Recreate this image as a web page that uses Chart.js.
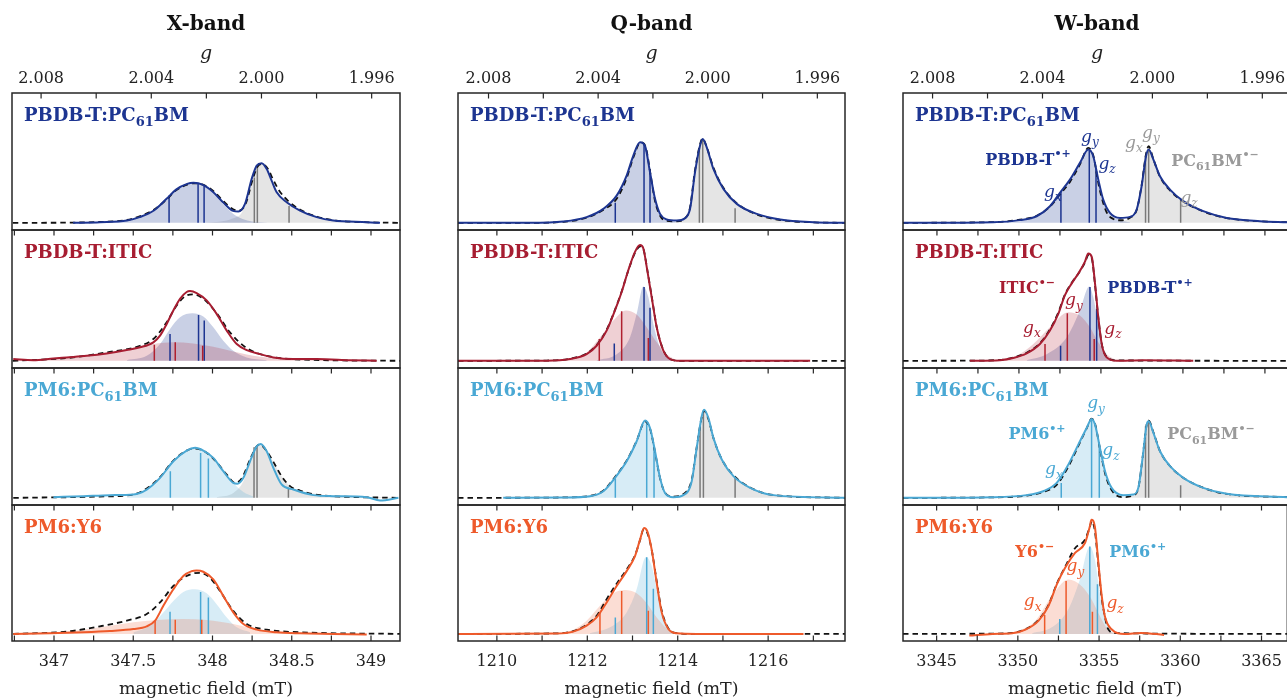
<!DOCTYPE html>
<html><head><meta charset="utf-8">
<script src="https://cdn.jsdelivr.net/npm/chart.js@4.4.1/dist/chart.umd.min.js"></script>
<style>
html,body{margin:0;padding:0;background:#fff;overflow:hidden;width:1287px;height:700px;position:relative;}
canvas{position:absolute;}
</style></head><body>
<script>
// ---------- axis ticks ----------
const X_ticks = [347, 347.5, 348, 348.5, 349];
const X_minor = [346.75, 347, 347.25, 347.5, 347.75, 348, 348.25, 348.5, 348.75, 349];
const Q_ticks = [1210, 1212, 1214, 1216];
const Q_minor = [1210, 1211, 1212, 1213, 1214, 1215, 1216, 1217];
const W_ticks = [3345, 3350, 3355, 3360, 3365];
const W_minor = [3345, 3347.5, 3350, 3352.5, 3355, 3357.5, 3360, 3362.5, 3365];
const g_ticks = [2.008, 2.004, 2.000, 1.996];
const g_minor = [2.008, 2.006, 2.004, 2.002, 2.000, 1.998, 1.996];
const bands = ['X-band', 'Q-band', 'W-band'];
const fieldRange = [[346.735, 349.183], [1209.14, 1217.70], [3342.93, 3366.59]];
const hvOverMuB = [696.61, 2429.30, 6716.2]; // B*g constant (mT)

// ---------- X-band ----------
const X1_exp = [[347.12,0],[347.29,0.005],[347.46,0.018],[347.54,0.044],[347.63,0.095],[347.71,0.185],[347.77,0.256],[347.84,0.300],[347.88,0.308],[347.94,0.292],[348.005,0.236],[348.07,0.154],[348.13,0.092],[348.163,0.087],[348.205,0.146],[348.247,0.338],[348.279,0.441],[348.31,0.459],[348.342,0.415],[348.373,0.326],[348.405,0.236],[348.468,0.159],[348.552,0.095],[348.657,0.044],[348.762,0.018],[348.973,0.005],[349.057,0]];
const X1_sim = [[346.74,0],[347.10,0.002],[347.29,0.007],[347.46,0.022],[347.54,0.05],[347.63,0.10],[347.71,0.18],[347.77,0.25],[347.84,0.295],[347.89,0.305],[347.95,0.29],[348.01,0.24],[348.07,0.165],[348.13,0.105],[348.17,0.095],[348.21,0.15],[348.25,0.32],[348.285,0.435],[348.315,0.452],[348.35,0.415],[348.38,0.34],[348.42,0.25],[348.48,0.165],[348.56,0.097],[348.66,0.047],[348.78,0.018],[349.0,0.004],[349.18,0]];
const X1_pbdb = [[347.30,0],[347.46,0.015],[347.54,0.04],[347.63,0.09],[347.71,0.18],[347.77,0.25],[347.84,0.295],[347.88,0.305],[347.94,0.29],[348.00,0.23],[348.07,0.14],[348.13,0.07],[348.19,0.03],[348.25,0.01],[348.35,0]];
const X1_pcbm = [[347.95,0],[348.05,0.01],[348.13,0.035],[348.19,0.09],[348.23,0.25],[348.27,0.41],[348.31,0.455],[348.34,0.41],[348.37,0.32],[348.41,0.23],[348.47,0.155],[348.55,0.09],[348.66,0.04],[348.76,0.015],[348.97,0.003],[349.06,0]];
const X1_pbdbSticks = [[347.726,0.21],[347.909,0.30],[347.947,0.29]];
const X1_pcbmSticks = [[348.264,0.35],[348.283,0.44],[348.483,0.13]];

const X2_exp = [[346.743,0.013],[346.869,0.005],[346.996,0.018],[347.08,0.026],[347.206,0.038],[347.332,0.056],[347.459,0.082],[347.543,0.103],[347.627,0.141],[347.669,0.192],[347.711,0.282],[347.753,0.385],[347.795,0.474],[347.837,0.526],[347.858,0.533],[347.90,0.518],[347.963,0.462],[348.026,0.359],[348.09,0.231],[348.153,0.128],[348.216,0.082],[348.30,0.051],[348.384,0.026],[348.51,0.013],[348.657,0.013],[348.868,0.005],[349.036,0]];
const X2_sim = [[346.74,0],[347.08,0.021],[347.332,0.064],[347.543,0.115],[347.627,0.167],[347.711,0.295],[347.774,0.423],[347.837,0.50],[347.879,0.508],[347.942,0.474],[348.026,0.364],[348.11,0.218],[348.216,0.097],[348.342,0.038],[348.552,0.01],[349.183,0]];
const X2_itic = [[346.743,0.005],[347.08,0.026],[347.332,0.056],[347.501,0.097],[347.627,0.128],[347.753,0.141],[347.879,0.133],[348.005,0.108],[348.131,0.072],[348.30,0.031],[348.552,0.01],[348.973,0.003]];
const X2_pbdb = [[347.459,0.005],[347.585,0.038],[347.669,0.128],[347.732,0.244],[347.795,0.333],[347.874,0.364],[347.942,0.338],[348.005,0.256],[348.068,0.154],[348.131,0.077],[348.216,0.026],[348.342,0.005]];
const X2_iticSticks = [[347.633,0.123],[347.765,0.141],[347.938,0.115]];
const X2_pbdbSticks = [[347.732,0.205],[347.912,0.351],[347.948,0.308]];

const X3_exp = [[346.996,0.005],[347.185,0.013],[347.353,0.021],[347.501,0.026],[347.585,0.064],[347.669,0.154],[347.753,0.282],[347.837,0.364],[347.89,0.385],[347.942,0.364],[348.005,0.308],[348.068,0.205],[348.131,0.115],[348.157,0.108],[348.195,0.154],[348.237,0.282],[348.279,0.397],[348.304,0.415],[348.342,0.359],[348.384,0.231],[348.436,0.103],[348.51,0.064],[348.636,0.021],[348.762,0.013],[348.973,0.005],[349.057,-0.02],[349.173,0]];
const X3_sim = [[346.743,0],[347.29,0.01],[347.501,0.026],[347.585,0.072],[347.669,0.159],[347.753,0.287],[347.837,0.364],[347.89,0.379],[347.942,0.364],[348.005,0.303],[348.09,0.179],[348.142,0.115],[348.184,0.149],[348.237,0.295],[348.279,0.397],[348.30,0.41],[348.342,0.359],[348.384,0.277],[348.436,0.167],[348.489,0.09],[348.552,0.056],[348.678,0.021],[349.183,0]];
const X3_pm6 = [[347.459,0.005],[347.585,0.056],[347.669,0.149],[347.753,0.277],[347.837,0.359],[347.89,0.379],[347.942,0.359],[348.005,0.303],[348.068,0.205],[348.131,0.115],[348.195,0.046],[348.258,0.01]];
const X3_pcbm = [[348.026,0.005],[348.131,0.038],[348.195,0.128],[348.237,0.277],[348.279,0.392],[348.304,0.41],[348.342,0.359],[348.384,0.277],[348.436,0.167],[348.489,0.09],[348.552,0.056],[348.678,0.026],[348.868,0.01],[349.173,0.003]];
const X3_pm6Sticks = [[347.734,0.205],[347.925,0.346],[347.974,0.303]];
const X3_pcbmSticks = [[348.262,0.39],[348.281,0.405],[348.479,0.077]];

const X4_exp = [[346.743,0],[346.974,0.005],[347.185,0.013],[347.353,0.023],[347.501,0.038],[347.585,0.059],[347.638,0.103],[347.69,0.218],[347.753,0.346],[347.816,0.449],[347.869,0.487],[347.90,0.492],[347.942,0.482],[348.005,0.423],[348.068,0.295],[348.131,0.167],[348.195,0.077],[348.279,0.033],[348.405,0.013],[348.552,0.005],[348.762,0],[348.973,-0.005]];
const X4_sim = [[346.743,0],[347.08,0.018],[347.29,0.059],[347.459,0.103],[347.585,0.154],[347.669,0.244],[347.753,0.372],[347.816,0.436],[347.879,0.469],[347.921,0.474],[347.984,0.436],[348.047,0.333],[348.131,0.179],[348.216,0.077],[348.342,0.033],[348.552,0.013],[349.183,0]];
const X4_pm6 = [[347.501,0.013],[347.606,0.064],[347.69,0.167],[347.753,0.256],[347.816,0.326],[347.89,0.346],[347.963,0.315],[348.026,0.231],[348.09,0.128],[348.153,0.051],[348.237,0.013]];
const X4_y6 = [[346.743,0],[347.08,0.018],[347.29,0.051],[347.501,0.09],[347.648,0.108],[347.816,0.115],[347.963,0.108],[348.131,0.077],[348.30,0.033],[348.552,0.008],[348.973,0]];
const X4_y6Sticks = [[347.638,0.108],[347.765,0.11],[347.932,0.11]];
const X4_pm6Sticks = [[347.732,0.172],[347.925,0.326],[347.974,0.282]];

// ---------- Q-band ----------
const Q1_exp = [[1209.143,0],[1210.731,0],[1211.468,0.01],[1211.985,0.044],[1212.354,0.108],[1212.649,0.21],[1212.87,0.364],[1213.018,0.518],[1213.166,0.621],[1213.277,0.592],[1213.387,0.39],[1213.498,0.185],[1213.609,0.069],[1213.756,0.026],[1213.978,0.018],[1214.162,0.036],[1214.273,0.108],[1214.383,0.39],[1214.494,0.595],[1214.553,0.646],[1214.642,0.582],[1214.789,0.415],[1215.011,0.262],[1215.306,0.146],[1215.749,0.069],[1216.265,0.026],[1217.003,0.005],[1217.704,0]];
const Q1_sim = [[1209.14,0],[1210.73,0],[1211.47,0.008],[1211.99,0.040],[1212.35,0.100],[1212.65,0.185],[1212.87,0.345],[1213.02,0.505],[1213.18,0.620],[1213.29,0.585],[1213.40,0.37],[1213.50,0.165],[1213.61,0.055],[1213.76,0.015],[1213.98,0.012],[1214.16,0.035],[1214.27,0.115],[1214.38,0.40],[1214.49,0.600],[1214.55,0.650],[1214.64,0.585],[1214.79,0.425],[1215.01,0.270],[1215.31,0.150],[1215.75,0.065],[1216.27,0.022],[1217.00,0.004],[1217.70,0]];
const Q1_pbdb = [[1211.2,0],[1211.616,0.01],[1211.985,0.044],[1212.354,0.108],[1212.649,0.205],[1212.87,0.359],[1213.018,0.513],[1213.166,0.615],[1213.277,0.59],[1213.387,0.39],[1213.498,0.172],[1213.609,0.062],[1213.756,0.018],[1213.978,0.003]];
const Q1_pcbm = [[1213.70,0],[1213.978,0.005],[1214.162,0.031],[1214.273,0.103],[1214.383,0.385],[1214.494,0.59],[1214.553,0.641],[1214.642,0.579],[1214.789,0.415],[1215.011,0.262],[1215.306,0.146],[1215.749,0.069],[1216.265,0.026],[1217.003,0.005],[1217.704,0]];
const Q1_pbdbSticks = [[1212.619,0.154],[1213.255,0.615],[1213.387,0.415]];
const Q1_pcbmSticks = [[1214.479,0.582],[1214.553,0.641],[1215.269,0.113]];

const Q2_exp = [[1209.143,0],[1211.10,0],[1211.616,0.013],[1211.985,0.051],[1212.206,0.115],[1212.428,0.231],[1212.612,0.385],[1212.76,0.526],[1212.907,0.692],[1213.055,0.833],[1213.166,0.885],[1213.24,0.859],[1213.314,0.718],[1213.424,0.487],[1213.535,0.256],[1213.683,0.077],[1213.83,0.013],[1214.052,0],[1216.929,0]];
const Q2_sim = [[1209.14,0],[1211.10,0.002],[1211.616,0.016],[1211.985,0.056],[1212.206,0.12],[1212.428,0.238],[1212.612,0.39],[1212.76,0.53],[1212.907,0.69],[1213.055,0.825],[1213.17,0.875],[1213.245,0.85],[1213.32,0.71],[1213.43,0.48],[1213.54,0.25],[1213.69,0.075],[1213.83,0.014],[1214.05,0],[1217.70,0]];
const Q2_itic = [[1211.2,0],[1211.616,0.013],[1211.985,0.064],[1212.28,0.179],[1212.575,0.308],[1212.856,0.385],[1213.092,0.354],[1213.314,0.256],[1213.535,0.141],[1213.756,0.051],[1213.978,0.005]];
const Q2_pbdb = [[1212.206,0.005],[1212.649,0.051],[1212.944,0.179],[1213.092,0.359],[1213.24,0.569],[1213.35,0.487],[1213.461,0.282],[1213.609,0.103],[1213.83,0.013],[1214.052,0]];
const Q2_iticSticks = [[1212.265,0.167],[1212.76,0.379],[1213.35,0.174]];
const Q2_pbdbSticks = [[1212.597,0.133],[1213.255,0.564],[1213.387,0.405]];

const Q3_exp = [[1210.14,0],[1211.468,0.003],[1212.059,0.013],[1212.354,0.051],[1212.612,0.154],[1212.87,0.282],[1213.092,0.436],[1213.277,0.595],[1213.387,0.538],[1213.498,0.359],[1213.609,0.154],[1213.719,0.038],[1213.904,0.005],[1214.126,0.021],[1214.31,0.128],[1214.42,0.385],[1214.531,0.628],[1214.582,0.679],[1214.679,0.615],[1214.789,0.462],[1214.974,0.295],[1215.232,0.167],[1215.602,0.077],[1216.118,0.021],[1217.704,0]];
const Q3_sim = [[1209.14,0],[1211.468,0.003],[1212.059,0.015],[1212.354,0.055],[1212.612,0.16],[1212.87,0.287],[1213.092,0.44],[1213.28,0.59],[1213.39,0.53],[1213.50,0.35],[1213.61,0.15],[1213.72,0.04],[1213.90,0.01],[1214.13,0.03],[1214.31,0.14],[1214.42,0.39],[1214.53,0.62],[1214.585,0.67],[1214.68,0.605],[1214.79,0.46],[1214.97,0.30],[1215.23,0.175],[1215.60,0.08],[1216.12,0.022],[1217.70,0]];
const Q3_pm6 = [[1211.6,0],[1212.059,0.008],[1212.354,0.051],[1212.612,0.149],[1212.87,0.277],[1213.092,0.431],[1213.277,0.59],[1213.387,0.533],[1213.498,0.354],[1213.609,0.149],[1213.719,0.036],[1213.904,0.003]];
const Q3_pcbm = [[1213.904,0.003],[1214.126,0.018],[1214.31,0.123],[1214.42,0.379],[1214.531,0.623],[1214.582,0.674],[1214.679,0.61],[1214.789,0.458],[1214.974,0.29],[1215.232,0.162],[1215.602,0.074],[1216.118,0.021],[1217.704,0]];
const Q3_pm6Sticks = [[1212.62,0.149],[1213.314,0.585],[1213.476,0.397]];
const Q3_pcbmSticks = [[1214.494,0.551],[1214.568,0.672],[1215.269,0.154]];

const Q4_exp = [[1209.143,0],[1211.321,0.003],[1211.69,0.018],[1211.985,0.064],[1212.206,0.128],[1212.428,0.244],[1212.649,0.372],[1212.87,0.487],[1213.055,0.603],[1213.166,0.731],[1213.255,0.821],[1213.328,0.795],[1213.424,0.654],[1213.535,0.397],[1213.646,0.167],[1213.793,0.038],[1213.978,0.005],[1214.42,0],[1216.782,0]];
const Q4_sim = [[1209.14,0],[1211.32,0.004],[1211.69,0.022],[1211.985,0.072],[1212.206,0.14],[1212.428,0.27],[1212.649,0.39],[1212.87,0.50],[1213.055,0.61],[1213.17,0.73],[1213.245,0.81],[1213.32,0.79],[1213.42,0.66],[1213.53,0.42],[1213.64,0.19],[1213.79,0.045],[1213.98,0.006],[1214.42,0],[1217.70,0]];
const Q4_y6 = [[1211.321,0.005],[1211.69,0.033],[1211.985,0.103],[1212.28,0.218],[1212.575,0.315],[1212.833,0.341],[1213.092,0.315],[1213.314,0.238],[1213.535,0.128],[1213.756,0.044],[1214.052,0.005]];
const Q4_pm6 = [[1212.059,0.005],[1212.502,0.051],[1212.87,0.167],[1213.092,0.346],[1213.299,0.597],[1213.424,0.526],[1213.535,0.346],[1213.683,0.141],[1213.867,0.026],[1214.052,0]];
const Q4_y6Sticks = [[1212.28,0.162],[1212.76,0.333],[1213.35,0.179]];
const Q4_pm6Sticks = [[1212.62,0.128],[1213.314,0.595],[1213.461,0.351]];

// ---------- W-band ----------
const W1_exp = [[3342.95,0],[3348.43,0.005],[3350.06,0.021],[3351.08,0.051],[3351.89,0.128],[3352.50,0.231],[3353.11,0.333],[3353.72,0.462],[3354.23,0.564],[3354.53,0.513],[3354.84,0.333],[3355.14,0.179],[3355.55,0.077],[3356.16,0.038],[3356.77,0.046],[3357.18,0.103],[3357.48,0.282],[3357.75,0.513],[3357.91,0.564],[3358.20,0.487],[3358.60,0.359],[3359.21,0.256],[3360.02,0.167],[3361.24,0.09],[3362.67,0.038],[3364.70,0.013],[3366.35,0.005]];
const W1_sim = [[3342.93,0],[3348.43,0.006],[3350.06,0.024],[3351.08,0.055],[3351.89,0.125],[3352.50,0.22],[3353.11,0.315],[3353.72,0.45],[3354.23,0.577],[3354.53,0.52],[3354.90,0.27],[3355.35,0.08],[3355.75,0.03],[3356.16,0.02],[3356.77,0.04],[3357.18,0.10],[3357.48,0.29],[3357.75,0.53],[3357.91,0.59],[3358.20,0.49],[3358.60,0.355],[3359.21,0.25],[3360.02,0.165],[3361.24,0.088],[3362.67,0.037],[3364.70,0.012],[3366.60,0.004]];
const W1_pbdb = [[3348.8,0],[3350.06,0.013],[3351.08,0.046],[3351.89,0.123],[3352.50,0.226],[3353.11,0.328],[3353.72,0.456],[3354.23,0.559],[3354.53,0.508],[3354.84,0.328],[3355.14,0.174],[3355.55,0.072],[3356.16,0.021],[3356.77,0.005]];
const W1_pcbm = [[3356.16,0.013],[3356.77,0.038],[3357.18,0.097],[3357.48,0.277],[3357.75,0.508],[3357.91,0.559],[3358.20,0.482],[3358.60,0.354],[3359.21,0.251],[3360.02,0.162],[3361.24,0.087],[3362.67,0.036],[3364.70,0.01],[3366.35,0.005]];
const W1_pbdbSticks = [[3352.56,0.244],[3354.29,0.559],[3354.70,0.423]];
const W1_pcbmSticks = [[3357.72,0.513],[3357.91,0.559],[3359.86,0.185]];

const W2_exp = [[3347.01,0],[3348.84,0.005],[3349.65,0.021],[3350.47,0.056],[3351.28,0.128],[3351.89,0.231],[3352.40,0.359],[3352.80,0.50],[3353.21,0.59],[3353.62,0.667],[3354.02,0.756],[3354.23,0.821],[3354.44,0.795],[3354.64,0.59],[3354.84,0.333],[3355.05,0.128],[3355.35,0.026],[3355.96,0],[3357.58,0.005],[3360.63,0]];
const W2_sim = [[3342.93,0],[3347.01,0.001],[3348.84,0.007],[3349.65,0.025],[3350.47,0.062],[3351.28,0.135],[3351.89,0.24],[3352.40,0.37],[3352.80,0.505],[3353.21,0.595],[3353.62,0.665],[3354.02,0.75],[3354.25,0.81],[3354.45,0.78],[3354.64,0.58],[3354.84,0.33],[3355.05,0.13],[3355.35,0.03],[3355.96,0.003],[3366.6,0]];
const W2_itic = [[3348.84,0.005],[3349.86,0.038],[3350.88,0.128],[3351.89,0.256],[3353.01,0.372],[3353.72,0.346],[3354.33,0.256],[3354.84,0.141],[3355.35,0.051],[3355.96,0.005]];
const W2_pbdb = [[3350.47,0.005],[3351.69,0.051],[3352.91,0.179],[3353.72,0.385],[3354.29,0.569],[3354.53,0.487],[3354.84,0.282],[3355.14,0.103],[3355.55,0.013],[3355.96,0]];
const W2_iticSticks = [[3351.59,0.128],[3352.95,0.364],[3354.59,0.167]];
const W2_pbdbSticks = [[3352.54,0.115],[3354.33,0.564],[3354.74,0.397]];

const W3_exp = [[3342.95,0],[3348.43,0.005],[3350.47,0.021],[3351.48,0.051],[3352.30,0.115],[3353.01,0.256],[3353.62,0.41],[3354.13,0.538],[3354.43,0.608],[3354.64,0.564],[3354.94,0.385],[3355.25,0.205],[3355.65,0.077],[3356.36,0.021],[3356.97,0.026],[3357.28,0.077],[3357.54,0.308],[3357.79,0.564],[3357.91,0.59],[3358.20,0.50],[3358.60,0.359],[3359.21,0.244],[3360.02,0.154],[3361.24,0.077],[3362.67,0.031],[3366.35,0.005]];
const W3_sim = [[3342.93,0],[3348.43,0.004],[3350.47,0.018],[3351.48,0.045],[3352.30,0.10],[3353.01,0.24],[3353.62,0.40],[3354.13,0.535],[3354.43,0.61],[3354.64,0.57],[3354.94,0.38],[3355.25,0.19],[3355.65,0.06],[3356.36,0.006],[3356.97,0.02],[3357.28,0.075],[3357.54,0.31],[3357.79,0.565],[3357.91,0.595],[3358.20,0.505],[3358.60,0.36],[3359.21,0.245],[3360.02,0.155],[3361.24,0.078],[3362.67,0.03],[3366.6,0.004]];
const W3_pm6 = [[3348.9,0],[3350.47,0.015],[3351.48,0.046],[3352.30,0.11],[3353.01,0.251],[3353.62,0.405],[3354.13,0.533],[3354.43,0.603],[3354.64,0.559],[3354.94,0.379],[3355.25,0.2],[3355.65,0.072],[3356.36,0.01]];
const W3_pcbm = [[3356.36,0.005],[3356.97,0.021],[3357.28,0.072],[3357.54,0.303],[3357.79,0.559],[3357.91,0.585],[3358.20,0.495],[3358.60,0.354],[3359.21,0.238],[3360.02,0.149],[3361.24,0.072],[3362.67,0.028],[3366.35,0.005]];
const W3_pm6Sticks = [[3352.58,0.115],[3354.43,0.603],[3354.90,0.41]];
const W3_pcbmSticks = [[3357.72,0.551],[3357.91,0.585],[3359.86,0.097]];

const W4_exp = [[3347.01,-0.013],[3348.43,0],[3349.65,0.005],[3350.47,0.033],[3351.28,0.103],[3351.89,0.218],[3352.40,0.385],[3352.91,0.513],[3353.52,0.628],[3354.13,0.705],[3354.43,0.833],[3354.53,0.885],[3354.74,0.833],[3354.94,0.577],[3355.14,0.321],[3355.35,0.141],[3355.75,0.038],[3356.57,0],[3357.58,0.008],[3359.00,-0.008]];
const W4_sim = [[3342.93,0],[3348.43,0.002],[3349.65,0.008],[3350.47,0.036],[3351.28,0.11],[3351.89,0.225],[3352.40,0.39],[3352.91,0.52],[3353.52,0.665],[3354.13,0.73],[3354.43,0.83],[3354.55,0.875],[3354.74,0.80],[3354.94,0.56],[3355.14,0.30],[3355.35,0.14],[3355.55,0.04],[3356.0,0.006],[3366.6,0]];
const W4_y6 = [[3349.04,0],[3350.06,0.026],[3351.08,0.103],[3352.09,0.295],[3353.11,0.423],[3353.92,0.372],[3354.53,0.269],[3355.04,0.141],[3355.55,0.033],[3356.16,0]];
const W4_pm6 = [[3350.88,0.005],[3352.09,0.051],[3353.11,0.192],[3353.82,0.423],[3354.43,0.679],[3354.74,0.577],[3355.04,0.321],[3355.35,0.128],[3355.75,0.018],[3356.16,0]];
const W4_y6Sticks = [[3351.65,0.146],[3352.97,0.41],[3354.59,0.172]];
const W4_pm6Sticks = [[3352.58,0.115],[3354.43,0.679],[3354.90,0.385]];

// ---------- styles ----------
const FONT = "'DejaVu Serif', serif";
const C = {
  pbdb: {line:'#1d3591', fill:'rgba(38,66,150,0.25)', stick:'#1d3591', text:'#1d3591'},
  pcbm: {line:'#777', fill:'rgba(0,0,0,0.10)', stick:'#7a7a7a', text:'#9a9a9a'},
  itic: {line:'#a71d31', fill:'rgba(180,40,60,0.22)', stick:'#b0202f', text:'#a71d31'},
  pm6:  {line:'#4aa8d4', fill:'rgba(74,170,214,0.22)', stick:'#4aa8d4', text:'#4aa8d4'},
  y6:   {line:'#ee5a2b', fill:'rgba(238,100,60,0.22)', stick:'#ee5a2b', text:'#ee5a2b'}
};
const gl = (s) => [['g','n'],[s,'sub']];
const sup = (name, sign) => [[name,'n'],['\u2022' + sign,'sup']];

const rowLabels = [
  {parts:[['PBDB-T:PC','n'],['61','sub'],['BM','n']], color:C.pbdb.text},
  {parts:[['PBDB-T:ITIC','n']], color:C.itic.text},
  {parts:[['PM6:PC','n'],['61','sub'],['BM','n']], color:C.pm6.text},
  {parts:[['PM6:Y6','n']], color:C.y6.text}
];

const panels = [
  // X-band
  {col:0,row:0, exp:X1_exp, sim:X1_sim, expC:C.pbdb.line, comps:[[X1_pbdb,C.pbdb],[X1_pcbm,C.pcbm]], sticks:[[X1_pbdbSticks,C.pbdb],[X1_pcbmSticks,C.pcbm]], notes:[]},
  {col:0,row:1, exp:X2_exp, sim:X2_sim, expC:C.itic.line, comps:[[X2_itic,C.itic],[X2_pbdb,C.pbdb]], sticks:[[X2_iticSticks,C.itic],[X2_pbdbSticks,C.pbdb]], notes:[]},
  {col:0,row:2, exp:X3_exp, sim:X3_sim, expC:C.pm6.line, comps:[[X3_pm6,C.pm6],[X3_pcbm,C.pcbm]], sticks:[[X3_pm6Sticks,C.pm6],[X3_pcbmSticks,C.pcbm]], notes:[]},
  {col:0,row:3, exp:X4_exp, sim:X4_sim, expC:C.y6.line, comps:[[X4_y6,C.y6],[X4_pm6,C.pm6]], sticks:[[X4_y6Sticks,C.y6],[X4_pm6Sticks,C.pm6]], notes:[]},
  // Q-band
  {col:1,row:0, exp:Q1_exp, sim:Q1_sim, expC:C.pbdb.line, comps:[[Q1_pbdb,C.pbdb],[Q1_pcbm,C.pcbm]], sticks:[[Q1_pbdbSticks,C.pbdb],[Q1_pcbmSticks,C.pcbm]], notes:[]},
  {col:1,row:1, exp:Q2_exp, sim:Q2_sim, expC:C.itic.line, comps:[[Q2_itic,C.itic],[Q2_pbdb,C.pbdb]], sticks:[[Q2_iticSticks,C.itic],[Q2_pbdbSticks,C.pbdb]], notes:[]},
  {col:1,row:2, exp:Q3_exp, sim:Q3_sim, expC:C.pm6.line, comps:[[Q3_pm6,C.pm6],[Q3_pcbm,C.pcbm]], sticks:[[Q3_pm6Sticks,C.pm6],[Q3_pcbmSticks,C.pcbm]], notes:[]},
  {col:1,row:3, exp:Q4_exp, sim:Q4_sim, expC:C.y6.line, comps:[[Q4_y6,C.y6],[Q4_pm6,C.pm6]], sticks:[[Q4_y6Sticks,C.y6],[Q4_pm6Sticks,C.pm6]], notes:[]},
  // W-band
  {col:2,row:0, exp:W1_exp, sim:W1_sim, expC:C.pbdb.line, comps:[[W1_pbdb,C.pbdb],[W1_pcbm,C.pcbm]], sticks:[[W1_pbdbSticks,C.pbdb],[W1_pcbmSticks,C.pcbm]],
    notes:[
      {x:3350.55,y:0.495,parts:sup('PBDB-T','+'),color:C.pbdb.text,kind:'sp'},
      {x:3354.33,y:0.665,parts:gl('y'),color:C.pbdb.text,kind:'g'},
      {x:3355.37,y:0.456,parts:gl('z'),color:C.pbdb.text,kind:'g'},
      {x:3352.07,y:0.241,parts:gl('x'),color:C.pbdb.text,kind:'g'},
      {x:3357.01,y:0.617,parts:gl('x'),color:C.pcbm.text,kind:'g'},
      {x:3358.05,y:0.695,parts:gl('y'),color:C.pcbm.text,kind:'g'},
      {x:3361.95,y:0.487,parts:[['PC','n'],['61','sub'],['BM','n'],['\u2022\u2212','sup']],color:C.pcbm.text,kind:'sp'},
      {x:3360.37,y:0.195,parts:gl('z'),color:C.pcbm.text,kind:'g'}
    ]},
  {col:2,row:1, exp:W2_exp, sim:W2_sim, expC:C.itic.line, comps:[[W2_itic,C.itic],[W2_pbdb,C.pbdb]], sticks:[[W2_iticSticks,C.itic],[W2_pbdbSticks,C.pbdb]],
    notes:[
      {x:3350.49,y:0.562,parts:sup('ITIC','\u2212'),color:C.itic.text,kind:'sp'},
      {x:3357.99,y:0.562,parts:sup('PBDB-T','+'),color:C.pbdb.text,kind:'sp'},
      {x:3353.35,y:0.462,parts:gl('y'),color:C.itic.text,kind:'g'},
      {x:3350.79,y:0.254,parts:gl('x'),color:C.itic.text,kind:'g'},
      {x:3355.73,y:0.246,parts:gl('z'),color:C.itic.text,kind:'g'}
    ]},
  {col:2,row:2, exp:W3_exp, sim:W3_sim, expC:C.pm6.line, comps:[[W3_pm6,C.pm6],[W3_pcbm,C.pcbm]], sticks:[[W3_pm6Sticks,C.pm6],[W3_pcbmSticks,C.pcbm]],
    notes:[
      {x:3351.10,y:0.498,parts:sup('PM6','+'),color:C.pm6.text,kind:'sp'},
      {x:3354.70,y:0.728,parts:gl('y'),color:C.pm6.text,kind:'g'},
      {x:3355.61,y:0.367,parts:gl('z'),color:C.pm6.text,kind:'g'},
      {x:3352.13,y:0.221,parts:gl('x'),color:C.pm6.text,kind:'g'},
      {x:3361.71,y:0.498,parts:[['PC','n'],['61','sub'],['BM','n'],['\u2022\u2212','sup']],color:C.pcbm.text,kind:'sp'}
    ]},
  {col:2,row:3, exp:W4_exp, sim:W4_sim, expC:C.y6.line, comps:[[W4_y6,C.y6],[W4_pm6,C.pm6]], sticks:[[W4_y6Sticks,C.y6],[W4_pm6Sticks,C.pm6]],
    notes:[
      {x:3351.04,y:0.641,parts:sup('Y6','\u2212'),color:C.y6.text,kind:'sp'},
      {x:3357.38,y:0.641,parts:sup('PM6','+'),color:C.pm6.text,kind:'sp'},
      {x:3353.54,y:0.525,parts:gl('y'),color:C.y6.text,kind:'g'},
      {x:3350.91,y:0.256,parts:gl('x'),color:C.y6.text,kind:'g'},
      {x:3355.98,y:0.241,parts:gl('z'),color:C.y6.text,kind:'g'}
    ]}
];

// ---------- layout (pixels) ----------
const colBox = [{left:12,width:388},{left:458,width:387},{left:903,width:388}];
const rowBox = [{top:93,h:137},{top:230,h:138},{top:368,h:137},{top:505,h:136}];
const minorOf = [X_minor, Q_minor, W_minor];
const ticksOf = [X_ticks, Q_ticks, W_ticks];

function drawRich(ctx, x, y, parts, o) {
  const fonts = parts.map(p => {
    const small = p[1] !== 'n';
    const s = small ? Math.round(o.size * 0.7) : o.size;
    return `${o.style||'normal'} ${o.weight||'normal'} ${s}px ${FONT}`;
  });
  const widths = parts.map((p, i) => { ctx.font = fonts[i]; return ctx.measureText(p[0]).width; });
  const total = widths.reduce((a, b) => a + b, 0);
  let cx = o.align === 'center' ? x - total / 2 : x;
  ctx.fillStyle = o.color;
  ctx.textBaseline = 'alphabetic';
  ctx.textAlign = 'left';
  parts.forEach((p, i) => {
    ctx.font = fonts[i];
    let dy = 0;
    if (p[1] === 'sub') dy = o.size * 0.28;
    if (p[1] === 'sup') dy = -o.size * 0.45;
    ctx.fillText(p[0], cx, y + dy);
    cx += widths[i];
  });
}

const decoPlugin = {
  id: 'deco',
  afterDatasetsDraw(chart) {
    const o = chart.options.plugins.deco;
    const {ctx, chartArea: a, scales} = chart;
    ctx.save();
    ctx.strokeStyle = '#262626';
    ctx.lineWidth = 1.2;
    const tl = 5.5;
    ctx.beginPath();
    if (o.row === 0) {
      for (const g of g_minor) { const x = scales.g.getPixelForValue(g); ctx.moveTo(x, a.top); ctx.lineTo(x, a.top + tl); }
    } else {
      for (const v of minorOf[o.col]) { const x = scales.x.getPixelForValue(v); ctx.moveTo(x, a.top); ctx.lineTo(x, a.top + tl); }
    }
    if (o.row === 3) {
      for (const v of minorOf[o.col]) { const x = scales.x.getPixelForValue(v); ctx.moveTo(x, a.bottom); ctx.lineTo(x, a.bottom - tl); }
    }
    ctx.stroke();
    ctx.lineWidth = 1.5;
    ctx.strokeRect(a.left, a.top, a.right - a.left, a.bottom - a.top);
    const rl = rowLabels[o.row];
    drawRich(ctx, a.left + 12, a.top + 28, rl.parts, {size:18, weight:'bold', color:rl.color});
    for (const n of o.notes) {
      const x = scales.x.getPixelForValue(n.x), y = scales.y.getPixelForValue(n.y);
      if (n.kind === 'g') drawRich(ctx, x, y + 5, n.parts, {size:17, style:'italic', color:n.color, align:'center'});
      else drawRich(ctx, x, y + 6, n.parts, {size:16, weight:'bold', color:n.color, align:'center'});
    }
    ctx.restore();
  }
};

const pts = arr => arr.map(([x, y]) => ({x, y}));
const stickPts = arr => arr.flatMap(([x, h]) => [{x, y:0}, {x, y:h}, {x, y:null}]);

panels.forEach(p => {
  const cb = colBox[p.col], rb = rowBox[p.row];
  let top = rb.top - 2, height = rb.h + 4, padTop = 2, padBottom = 2;
  if (p.row === 0) { top = 0; height = rb.top + rb.h + 2; padTop = 0; }
  if (p.row === 3) { height = 700 - top; padBottom = 0; }
  const cv = document.createElement('canvas');
  cv.width = cb.width + 4; cv.height = height;
  cv.style.left = (cb.left - 2) + 'px'; cv.style.top = top + 'px';
  cv.style.width = (cb.width + 4) + 'px'; cv.style.height = height + 'px';
  document.body.appendChild(cv);

  const datasets = [];
  datasets.push({data: pts(p.exp), borderColor: p.expC, borderWidth: 2, pointRadius: 0, cubicInterpolationMode: 'monotone', fill: false, order: 0});
  datasets.push({data: pts(p.sim), borderColor: '#111', borderWidth: 1.8, borderDash: [5.5, 4], pointRadius: 0, cubicInterpolationMode: 'monotone', fill: false, order: 1});
  p.sticks.forEach(([s, c]) => datasets.push({data: stickPts(s), borderColor: c.stick, borderWidth: 1.5, pointRadius: 0, tension: 0, spanGaps: false, fill: false, order: 2}));
  p.comps.forEach(([d, c]) => datasets.push({data: pts(d), borderWidth: 0, borderColor: 'rgba(0,0,0,0)', backgroundColor: c.fill, pointRadius: 0, cubicInterpolationMode: 'monotone', fill: 'origin', order: 3}));

  const [bmin, bmax] = fieldRange[p.col];
  const K = hvOverMuB[p.col];
  const scales = {
    x: {type: 'linear', position: 'bottom', min: bmin, max: bmax, offset: false,
        display: p.row === 3,
        grid: {display: false, drawTicks: false},
        border: {display: false},
        afterBuildTicks: s => { s.ticks = ticksOf[p.col].map(v => ({value: v})); },
        afterFit: s => { if (p.row === 3) s.height = 59; },
        ticks: {font: {size: 16, family: FONT}, color: '#222', padding: 11, maxRotation: 0, autoSkip: false,
                callback: v => String(v)},
        title: {display: true, text: 'magnetic field (mT)', font: {size: 17.5, family: FONT}, color: '#222', padding: {top: 0, bottom: 0}}},
    y: {type: 'linear', min: -0.055, max: 1.0, display: false}
  };
  if (p.row === 0) {
    scales.g = {type: 'linear', axis: 'x', position: 'top', reverse: true, min: K / bmax, max: K / bmin,
      grid: {display: false, drawTicks: false}, border: {display: false},
      afterBuildTicks: s => { s.ticks = g_ticks.map(v => ({value: v})); },
      afterFit: s => { s.height = 56; },
      ticks: {font: {size: 16, family: FONT}, color: '#222', padding: 5, maxRotation: 0, autoSkip: false,
              callback: v => v.toFixed(3)},
      title: {display: true, text: 'g', font: {size: 19, family: FONT, style: 'italic'}, color: '#222', padding: {top: 6, bottom: 0}}};
  }
  new Chart(cv, {
    type: 'line',
    data: {datasets},
    options: {
      responsive: false, animation: false, events: [],
      layout: {padding: {left: 2, right: 2, top: padTop, bottom: padBottom}, autoPadding: false},
      scales,
      plugins: {
        legend: {display: false}, tooltip: {enabled: false},
        title: {display: p.row === 0, text: bands[p.col], font: {size: 20, weight: 'bold', family: FONT}, color: '#111', padding: {top: 13, bottom: 0}},
        deco: {row: p.row, col: p.col, notes: p.notes}
      }
    },
    plugins: [decoPlugin]
  });
});
</script>
</body></html>
